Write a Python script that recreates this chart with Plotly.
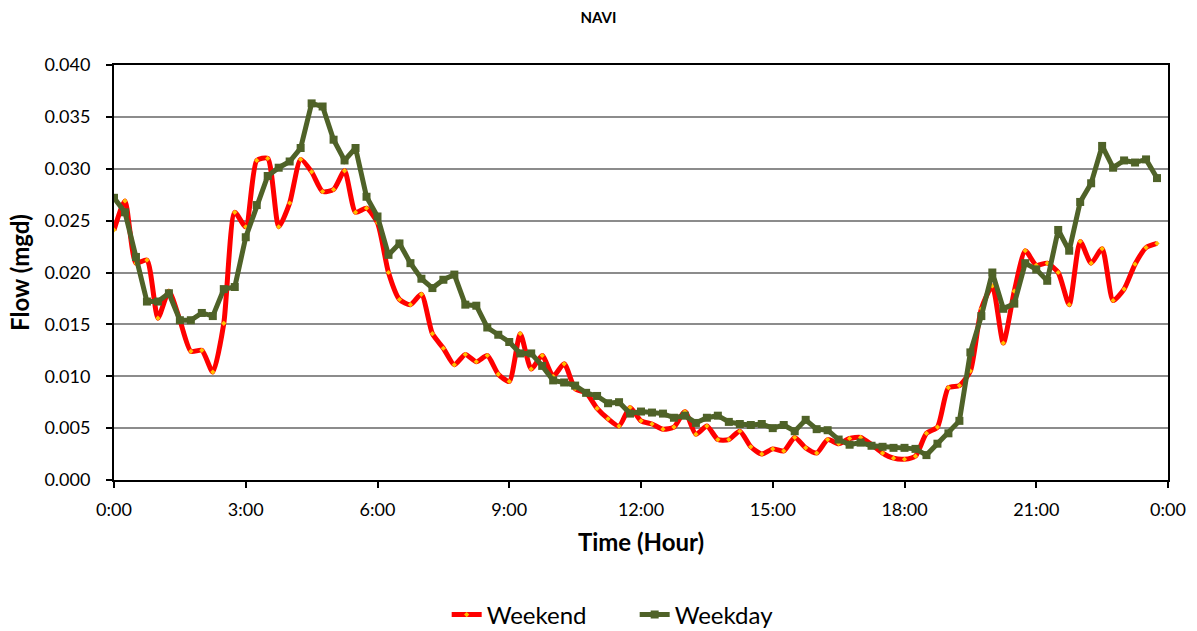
import plotly.graph_objects as go

hours = [i * 0.25 for i in range(96)]

weekend = [
    0.0241, 0.0269, 0.0209, 0.0212, 0.0156, 0.0182, 0.0154, 0.0124,
    0.0125, 0.0104, 0.0151, 0.0258, 0.0244, 0.0308, 0.0310, 0.0244,
    0.0267, 0.0309, 0.0297, 0.0278, 0.0280, 0.0298, 0.0258, 0.0262,
    0.0248, 0.0200, 0.0174, 0.0169, 0.0179, 0.0141, 0.0127, 0.0111,
    0.0121, 0.0114, 0.0120, 0.0102, 0.0095, 0.0141, 0.0107, 0.0120,
    0.0100, 0.0112, 0.0088, 0.0084, 0.0069, 0.0059, 0.0052, 0.0070,
    0.0057, 0.0054, 0.0049, 0.0051, 0.0066, 0.0044, 0.0052, 0.0039,
    0.0039, 0.0047, 0.0032, 0.0025, 0.0030, 0.0028, 0.0041, 0.0031,
    0.0026, 0.0039, 0.0035, 0.0040, 0.0041, 0.0034, 0.0026, 0.0021,
    0.0020, 0.0023, 0.0045, 0.0051, 0.0089, 0.0091, 0.0105, 0.0165,
    0.0187, 0.0132, 0.0182, 0.0221, 0.0207, 0.0209, 0.0200, 0.0169,
    0.0230, 0.0209, 0.0223, 0.0173, 0.0184, 0.0208, 0.0224, 0.0228,
]

weekday = [
    0.0272, 0.0258, 0.0215, 0.0172, 0.0172, 0.0180, 0.0154, 0.0154,
    0.0161, 0.0158, 0.0184, 0.0186, 0.0234, 0.0265, 0.0293, 0.0301,
    0.0307, 0.0320, 0.0363, 0.0360, 0.0328, 0.0308, 0.0320, 0.0273,
    0.0254, 0.0217, 0.0228, 0.0209, 0.0194, 0.0185, 0.0193, 0.0198,
    0.0169, 0.0168, 0.0147, 0.0140, 0.0133, 0.0122, 0.0122, 0.0110,
    0.0096, 0.0094, 0.0091, 0.0084, 0.0081, 0.0074, 0.0075, 0.0064,
    0.0066, 0.0065, 0.0064, 0.0060, 0.0062, 0.0055, 0.0060, 0.0062,
    0.0056, 0.0054, 0.0053, 0.0054, 0.0050, 0.0053, 0.0047, 0.0058,
    0.0049, 0.0048, 0.0039, 0.0034, 0.0036, 0.0033, 0.0032, 0.0031,
    0.0031, 0.0030, 0.0024, 0.0035, 0.0045, 0.0057, 0.0123, 0.0158,
    0.0200, 0.0165, 0.0170, 0.0209, 0.0203, 0.0192, 0.0241, 0.0221,
    0.0268, 0.0286, 0.0322, 0.0301, 0.0308, 0.0306, 0.0309, 0.0291,
]

tick_vals = [0, 3, 6, 9, 12, 15, 18, 21, 24]
tick_text = ["0:00", "3:00", "6:00", "9:00", "12:00", "15:00", "18:00", "21:00", "0:00"]

FONT = "Lato, 'Open Sans', sans-serif"

fig = go.Figure()
fig.add_trace(go.Scatter(
    x=hours, y=weekend, name="Weekend", mode="lines+markers",
    line=dict(color="#FF0000", width=5, shape="spline", smoothing=0.6),
    marker=dict(symbol="diamond", size=4, color="#FFC000", line=dict(width=0)),
))
fig.add_trace(go.Scatter(
    x=hours, y=weekday, name="Weekday", mode="lines+markers",
    line=dict(color="#4F6228", width=5),
    marker=dict(symbol="square", size=8, color="#4F6228"),
))

fig.update_layout(
    width=1197, height=631,
    margin=dict(l=114, r=29, t=65, b=151, autoexpand=False),
    paper_bgcolor="white", plot_bgcolor="white",
    font=dict(family=FONT, color="black"),
    title=dict(text="<b>NAVI</b>", x=0.5, xanchor="center", y=0.9715, yanchor="middle",
               font=dict(size=15, family=FONT)),
    showlegend=True,
    legend=dict(orientation="h", x=0.494, xanchor="center",
                yref="container", y=1 - 615 / 631, yanchor="middle",
                font=dict(size=24, family=FONT), entrywidth=143, entrywidthmode="pixels"),
    xaxis=dict(
        range=[0, 24], tickvals=tick_vals, ticktext=tick_text,
        showgrid=False, zeroline=False, automargin=False,
        showline=True, linecolor="black", linewidth=2, mirror=True,
        ticks="outside", ticklen=6, tickcolor="black", tickwidth=2,
        ticklabelstandoff=6,
        tickfont=dict(size=18, family=FONT),
        title=dict(text="<b>Time (Hour)</b>", font=dict(size=24, family=FONT), standoff=16),
    ),
    yaxis=dict(
        range=[0, 0.04], dtick=0.005, tickformat=".3f",
        showgrid=True, gridcolor="#8C8C8C", gridwidth=2, zeroline=False, automargin=False,
        showline=True, linecolor="black", linewidth=2, mirror=True,
        ticks="outside", ticklen=6, tickcolor="black", tickwidth=2,
        ticklabelstandoff=12,
        tickfont=dict(size=18, family=FONT),
        title=dict(text="<b>Flow (mgd)</b>", font=dict(size=24, family=FONT), standoff=8),
    ),
)

fig.write_html("out.html")
